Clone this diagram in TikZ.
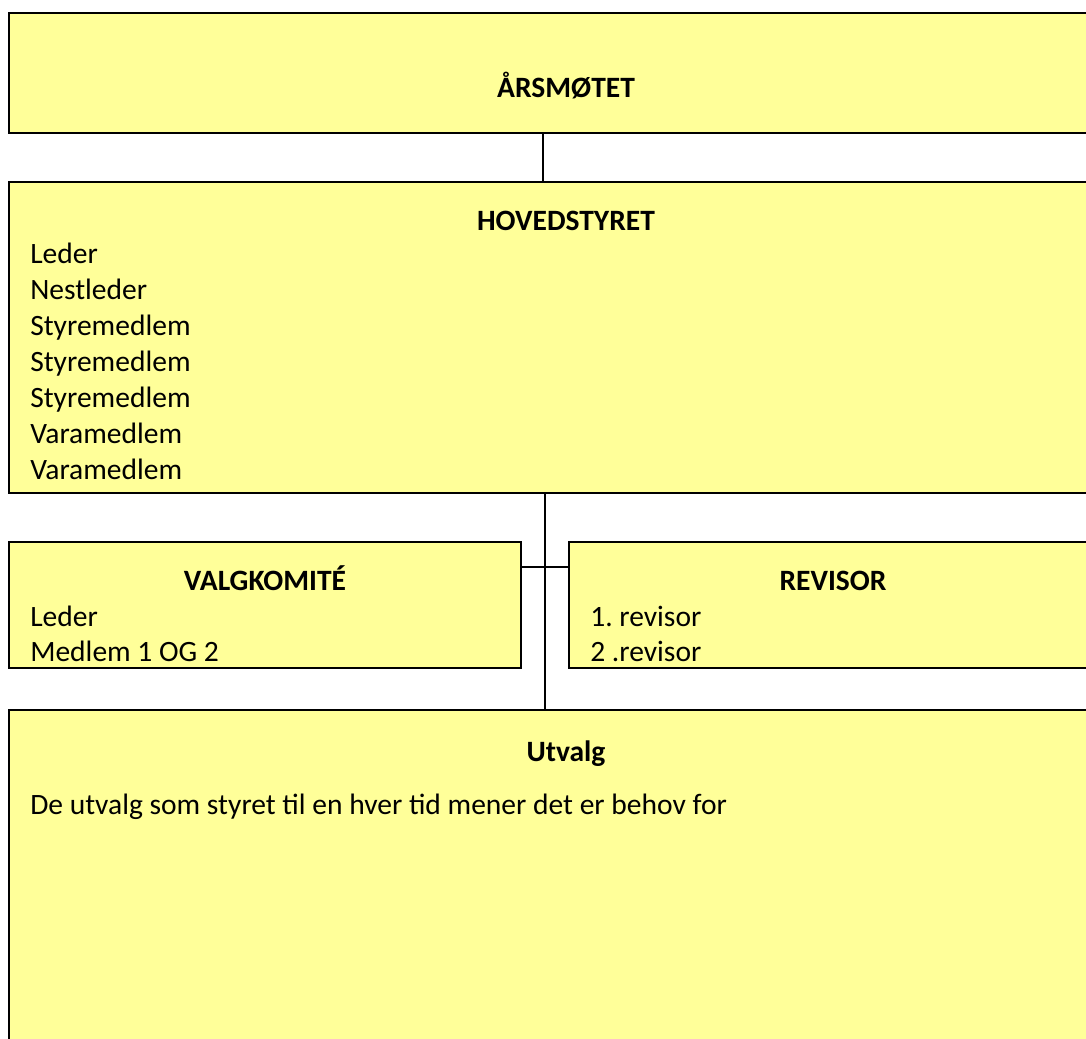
\documentclass[tikz,border=0pt]{standalone}
\usepackage{fontspec}
\setmainfont{Carlito}
\usetikzlibrary{positioning}

\definecolor{boxfill}{HTML}{FFFF99}
\newcommand{\px}{0.025cm}
\newcommand{\orgsize}{\fontsize{21}{26}\selectfont}

\tikzset{
  box/.style={draw=black,line width=1.3pt,fill=boxfill,rectangle,inner sep=0pt},
  title/.style={anchor=base,inner sep=0pt,font=\orgsize\bfseries},
  item/.style={anchor=base west,inner sep=0pt,font=\orgsize},
  link/.style={draw=black,line width=0.9pt}
}

\begin{document}
\frenchspacing
\begin{tikzpicture}[x=\px,y=-\px]
  \clip (0,0) rectangle (1086,1039);
  \fill[white] (0,0) rectangle (1086,1039);

  \node[box,minimum width=1114*\px,minimum height=120*\px] (aars) at (566,73) {};
  \node[box,minimum width=1114*\px,minimum height=311*\px] (hoved) at (566,337.5) {};
  \node[box,minimum width=512*\px,minimum height=126*\px] (valg) at (265,605) {};
  \node[box,minimum width=528*\px,minimum height=126*\px] (rev) at (833,605) {};
  \node[box,minimum width=1114*\px,minimum height=370*\px] (utv) at (566,895) {};

  \node[title] (aarst) at (566,97) {ÅRSMØTET};
  \node[title] (hovedt) at (566,230) {HOVEDSTYRET};
  \node[title] (valgt) at (265,590) {VALGKOMITÉ};
  \node[title] (revt) at (833,590) {REVISOR};
  \node[title] (utvt) at (566,761) {Utvalg};

  \foreach \t [count=\i] in {Leder,Nestleder,Styremedlem,Styremedlem,Styremedlem,Varamedlem,Varamedlem}
    \node[item] (h\i) at (30,{227+36*\i}) {\t};

  \node[item] (v1) at (30,626) {Leder};
  \node[item] (v2) at (30,661) {Medlem 1 OG 2};
  \node[item] (r1) at (590,626) {1. revisor};
  \node[item] (r2) at (590,661) {2 .revisor};
  \node[item] (u1) at (30,814) {De utvalg som styret til en hver tid mener det er behov for};

  \coordinate (c1) at (543,0);
  \coordinate (c2) at (545,0);
  \coordinate (c3) at (0,567);
  \draw[link] (aars.south -| c1) -- (hoved.north -| c1);
  \draw[link] (hoved.south -| c2) -- (utv.north -| c2);
  \draw[link] (valg.east |- c3) -- (rev.west |- c3);
\end{tikzpicture}
\end{document}
